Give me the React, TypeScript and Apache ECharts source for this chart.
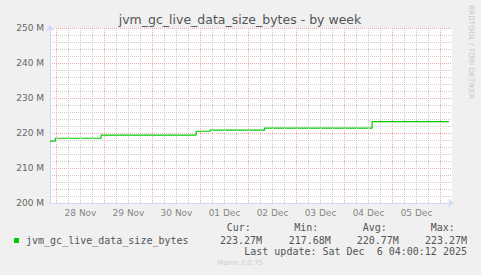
import React, { useEffect, useRef } from 'react';
import * as echarts from 'echarts';

// Hours relative to 28 Nov 00:00, and values in M (bytes / 1e6)
const stepHours = [-3.25, -0.6, 22.3, 69.8, 76.8, 104.1, 157.8, 196.2];
const stepValues = [217.68, 218.5, 219.4, 220.5, 220.8, 221.4, 223.27, 223.27];

const dayLabels = ['28 Nov', '29 Nov', '30 Nov', '01 Dec', '02 Dec', '03 Dec', '04 Dec', '05 Dec'];
const dayLabelHours = [12, 36, 60, 84, 108, 132, 156, 180];
const majorGridHours = [0, 24, 48, 72, 96, 120, 144, 168, 192];
const minorGridHours = [
  6, 12, 18, 30, 36, 42, 54, 60, 66, 78, 84, 90, 102, 108, 114,
  126, 132, 138, 150, 156, 162, 174, 180, 186,
];

const seriesName = 'jvm_gc_live_data_size_bytes';
const statHeaders = ['Cur:', 'Min:', 'Avg:', 'Max:'];
const statValues = ['223.27M', '217.68M', '220.77M', '223.27M'];
const lastUpdate = 'Last update: Sat Dec  6 04:00:12 2025';

const GREEN = '#00cc00';
const AXIS = '#cfd6f8';
const MINOR = '#cccccc';
const MAJOR = '#f2a8a8';
const FONT = '"DejaVu Sans", sans-serif';
const MONO = '"DejaVu Sans Mono", monospace';

export default function App() {
  const ref = useRef<HTMLDivElement>(null);

  useEffect(() => {
    if (!ref.current) return;
    const chart = echarts.init(ref.current, undefined, { renderer: 'svg' });

    const headerX = [226.7, 294.3, 362.7, 430.7];
    const valueX = [220, 288.7, 356.7, 425];

    const texts: any[] = [
      {
        type: 'text', x: 240, y: 19,
        style: { text: 'jvm_gc_live_data_size_bytes - by week', font: `12.5px ${FONT}`, fill: '#555',
          align: 'center', verticalAlign: 'middle', textAlign: 'center', textVerticalAlign: 'middle' },
      },
      {
        type: 'text', x: 471, y: 5, rotation: -Math.PI / 2,
        style: { text: 'RRDTOOL / TOBI OETIKER', font: `7.3px ${FONT}`, fill: '#c8c8c8',
          align: 'left', verticalAlign: 'middle', textAlign: 'left', textVerticalAlign: 'middle' },
      },
      {
        type: 'rect', shape: { x: 14, y: 238, width: 5, height: 5 }, style: { fill: GREEN },
      },
      {
        type: 'text', x: 26, y: 240,
        style: { text: seriesName, font: `10px ${MONO}`, fill: '#555',
          align: 'left', verticalAlign: 'middle', textAlign: 'left', textVerticalAlign: 'middle' },
      },
      {
        type: 'text', x: 467, y: 251.7,
        style: { text: lastUpdate, font: `10px ${MONO}`, fill: '#555',
          align: 'right', verticalAlign: 'middle', textAlign: 'right', textVerticalAlign: 'middle' },
      },
      {
        type: 'text', x: 240, y: 263.3,
        style: { text: 'Munin 2.0.75', font: `7px ${FONT}`, fill: '#cccccc',
          align: 'center', verticalAlign: 'middle', textAlign: 'center', textVerticalAlign: 'middle' },
      },
    ];
    statHeaders.forEach((h, i) => {
      texts.push({
        type: 'text', x: headerX[i], y: 227.7,
        style: { text: h, font: `10px ${MONO}`, fill: '#555',
          align: 'left', verticalAlign: 'middle', textAlign: 'left', textVerticalAlign: 'middle' },
      });
      texts.push({
        type: 'text', x: valueX[i], y: 240,
        style: { text: statValues[i], font: `10px ${MONO}`, fill: '#555',
          align: 'left', verticalAlign: 'middle', textAlign: 'left', textVerticalAlign: 'middle' },
      });
    });

    const option: any = {
      animation: false,
      backgroundColor: '#f0f0f0',
      grid: {
        left: 50, top: 28, width: 402, height: 175,
        show: true, backgroundColor: '#ffffff', borderWidth: 0,
      },
      xAxis: {
        type: 'value', min: -3.25, max: 197.75,
        axisLine: {
          show: true, onZero: false, lineStyle: { color: AXIS, width: 1 },
          symbol: ['none', 'arrow'], symbolSize: [6, 6], symbolOffset: [0, 2],
        },
        axisTick: { show: false },
        axisLabel: { show: false },
        splitLine: { show: false },
      },
      yAxis: [
        {
          type: 'value', min: 200, max: 250, interval: 2,
          axisLine: {
            show: true, onZero: false, lineStyle: { color: AXIS, width: 1 },
            symbol: ['none', 'arrow'], symbolSize: [6, 6], symbolOffset: [0, 3],
          },
          axisTick: { show: false },
          axisLabel: { show: false },
          splitLine: { show: true, lineStyle: { color: MINOR, type: [1, 1], width: 1 } },
        },
        {
          type: 'value', min: 200, max: 250, interval: 10, position: 'left',
          axisLine: { show: false, onZero: false },
          axisTick: { show: false },
          axisLabel: {
            formatter: (v: number) => `${v} M`, margin: 6,
            color: '#666', fontSize: 9, fontFamily: FONT,
          },
          splitLine: { show: true, lineStyle: { color: MAJOR, type: [1, 1], width: 1 } },
        },
      ],
      series: [
        {
          type: 'line', data: [], z: 1, silent: true,
          color: MINOR,
          markLine: {
            silent: true, symbol: ['none', 'none'], animation: false,
            label: { show: false },
            lineStyle: { color: MINOR, type: [1, 1], width: 1, opacity: 1 },
            emphasis: { disabled: true },
            data: minorGridHours.map((h) => ({ xAxis: h })),
          },
        },
        {
          type: 'line', data: [], z: 1, silent: true,
          color: MAJOR,
          markLine: {
            silent: true, symbol: ['none', 'none'], animation: false,
            label: { show: false },
            lineStyle: { color: MAJOR, type: [1, 1], width: 1, opacity: 1 },
            emphasis: { disabled: true },
            data: majorGridHours.map((h) => ({ xAxis: h })),
          },
        },
        {
          type: 'scatter', z: 2, silent: true, clip: false,
          symbolSize: 0,
          data: dayLabelHours.map((h) => [h, 200]),
          label: {
            show: true, position: 'bottom', distance: 5,
            formatter: (p: any) => dayLabels[p.dataIndex],
            color: '#666', fontSize: 9, fontFamily: FONT,
          },
        },
        {
          type: 'line', name: seriesName, z: 3, step: 'end',
          showSymbol: false, silent: true,
          data: stepHours.map((h, i) => [h, stepValues[i]]),
          lineStyle: { color: GREEN, width: 1.2 },
          itemStyle: { color: GREEN },
        },
      ],
      graphic: { elements: texts },
    };

    chart.setOption(option);
    return () => chart.dispose();
  }, []);

  return (
    <div
      ref={ref}
      style={{ position: 'fixed', left: 0, top: 0, width: 481, height: 275 }}
    />
  );
}
